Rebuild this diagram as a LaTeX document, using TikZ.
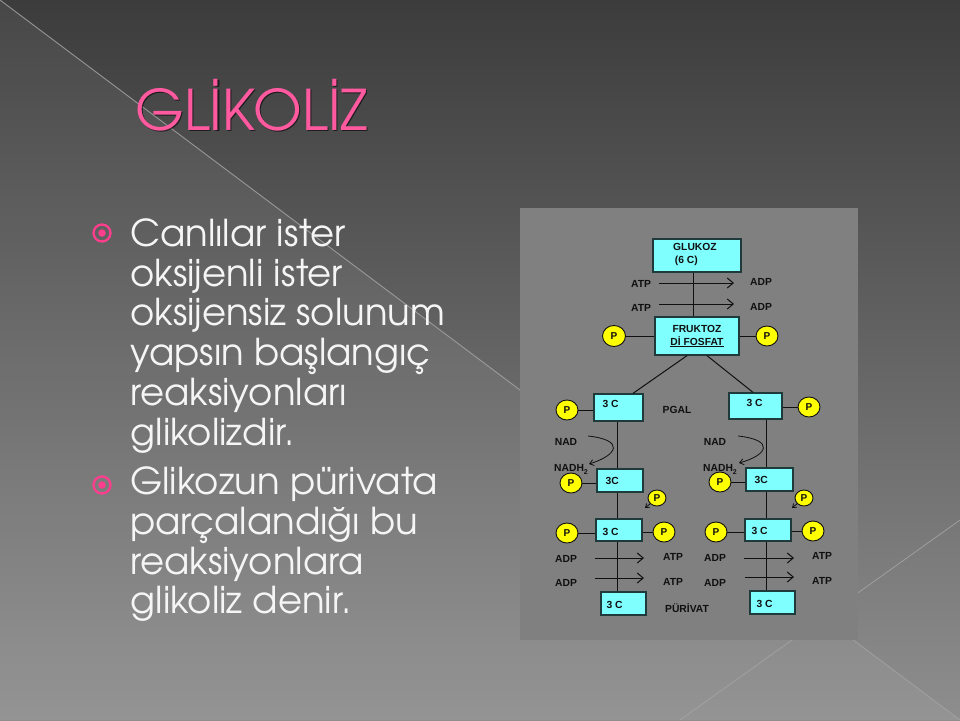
\documentclass[tikz,border=0pt]{standalone}
\usepackage{fontspec}
\setmainfont{Liberation Sans}
\newfontfamily\adv{TeX Gyre Adventor}
\newfontfamily\lib{Liberation Sans}
\usetikzlibrary{arrows.meta,shapes.geometric}
\definecolor{bgtop}{HTML}{3C3C3C}
\definecolor{bgbot}{HTML}{8E8E8E}
\definecolor{panel}{HTML}{808080}
\definecolor{boxfill}{HTML}{80FFFF}
\definecolor{boxline}{HTML}{1E3A3A}
\definecolor{pfill}{HTML}{FFFF00}
\definecolor{titlepink}{HTML}{FF5AA0}
\definecolor{bulletpink}{HTML}{FF3D8D}
\definecolor{ink}{HTML}{101010}
\definecolor{bgline}{HTML}{A4A4A4}
\begin{document}
\begin{tikzpicture}[x=1pt,y=-1pt,
  box/.style={draw=boxline,fill=boxfill,line width=1.3pt,inner sep=0pt},
  lbl/.style={inner sep=0pt,font=\lib\bfseries\fontsize{10.3}{13}\selectfont,text=ink},
  pc/.style={ellipse,draw=ink,fill=pfill,line width=0.9pt,minimum width=22pt,minimum height=20pt,inner sep=0pt,font=\lib\bfseries\fontsize{10}{10}\selectfont,text=ink},
  pcs/.style={pc,minimum width=18pt,minimum height=16pt},
  conn/.style={draw=ink,line width=1pt},
  arr/.style={conn,-{Straight Barb[length=6pt,width=10pt]}},
  arrs/.style={conn,line width=0.8pt,-{Straight Barb[length=3.5pt,width=5pt]}},
  body/.style={anchor=base west,inner sep=0pt,text=white!96!black,font=\adv\fontsize{37}{40}\selectfont},
  bul/.style={circle,draw=bulletpink,line width=2.3pt,minimum size=17pt,inner sep=0pt},
  buldot/.style={circle,fill=bulletpink,minimum size=7.5pt,inner sep=0pt},
  ttl/.style={anchor=base west,inner sep=0pt,font=\adv\fontsize{56}{60}\selectfont}
]
\useasboundingbox (0,0) rectangle (960,720);
% background
\shade[top color=bgtop,bottom color=bgbot] (0,0) rectangle (960,720);
\fill[white,opacity=0.06] (0,0) -- (960,720) -- (0,720) -- cycle;
\draw[bgline,line width=0.9pt,opacity=0.8] (0,0) -- (960,720);
\draw[bgline,line width=0.9pt,opacity=0.8] (680,720) -- (960,520);

% title
\node[ttl,text=black,opacity=0.6] (titlesh) at (136.3,131.3) {GLİKOLİZ};
\node[ttl,text=titlepink] (title) at (135,130) {GLİKOLİZ};

% bullets
\node[bul] (bul1) at (102,233) {};
\node[buldot] (bul1d) at (bul1) {};
\node[bul] (bul2) at (102,485) {};
\node[buldot] (bul2d) at (bul2) {};

\node[body] (t1) at (130,246) {Canlılar ister};
\node[body] (t2) at (130,286) {oksijenli ister};
\node[body] (t3) at (130,325) {oksijensiz solunum};
\node[body] (t4) at (130,365) {yapsın başlangıç};
\node[body] (t5) at (130,405) {reaksiyonları};
\node[body] (t6) at (130,445) {glikolizdir.};
\node[body] (t7) at (130,494) {Glikozun pürivata};
\node[body] (t8) at (130,534) {parçalandığı bu};
\node[body] (t9) at (130,574) {reaksiyonlara};
\node[body] (t10) at (130,613) {glikoliz denir.};

% panel
\fill[panel] (520,208) rectangle (858,640);

% boxes
\node[box,minimum width=88pt,minimum height=33pt] (G) at (697,255.5) {};
\node[lbl,anchor=west,align=left] (Gt) at (673,254) {GLUKOZ\\\,(6 C)};
\node[box,minimum width=84pt,minimum height=38pt] (F) at (697,336) {};
\node[lbl,align=center] (Ft) at (697,336) {FRUKTOZ\\\underline{Dİ FOSFAT}};

\node[box,minimum width=49pt,minimum height=27pt] (L1) at (618.5,407.5) {};
\node[box,minimum width=53pt,minimum height=26pt] (R1) at (755.5,406) {};
\node[box,minimum width=46pt,minimum height=23pt] (L2) at (620,480.5) {};
\node[box,minimum width=47pt,minimum height=23pt] (R2) at (769.5,479.5) {};
\node[box,minimum width=46pt,minimum height=22pt] (L3) at (619,530) {};
\node[box,minimum width=46pt,minimum height=22pt] (R3) at (768,530) {};
\node[box,minimum width=45pt,minimum height=23pt] (L4) at (623.5,603.5) {};
\node[box,minimum width=45pt,minimum height=23pt] (R4) at (772.5,602.5) {};

\path (L1.west) ++(9,-3.5) node[lbl,anchor=west] (L1t) {3 C};
\path (R1.west) ++(18,-3) node[lbl,anchor=west] (R1t) {3 C};
\path (L2.west) ++(9,0) node[lbl,anchor=west] (L2t) {3C};
\path (R2.west) ++(9,0.5) node[lbl,anchor=west] (R2t) {3C};
\path (L3.west) ++(7,2) node[lbl,anchor=west] (L3t) {3 C};
\path (R3.west) ++(7,0.5) node[lbl,anchor=west] (R3t) {3 C};
\path (L4.west) ++(6,1.5) node[lbl,anchor=west] (L4t) {3 C};
\path (R4.west) ++(7,1.5) node[lbl,anchor=west] (R4t) {3 C};

% vertical axes
\coordinate (xg) at (693,0);
\coordinate (xl) at (617.5,0);
\coordinate (xr) at (766.5,0);
\draw[conn] (G.south -| xg) -- (F.north -| xg);
\draw[conn] (L1.south -| xl) -- (L2.north -| xl);
\draw[conn] (L2.south -| xl) -- (L3.north -| xl);
\draw[conn] (L3.south -| xl) -- (L4.north -| xl);
\draw[conn] (R1.south -| xr) -- (R2.north -| xr);
\draw[conn] (R2.south -| xr) -- (R3.north -| xr);
\draw[conn] (R3.south -| xr) -- (R4.north -| xr);

% split
\draw[conn] ([xshift=-10pt]F.south) -- ([xshift=14.5pt]L1.north);
\draw[conn] ([xshift=10pt]F.south) -- ([xshift=-2.5pt]R1.north);

% phosphates
\node[pc,minimum width=23pt,minimum height=21pt] (PFL) at (614,336) {P};
\node[pc] (PFR) at (767,336) {P};
\node[pc] (P1L) at (567,410) {P};
\node[pc] (P1R) at (809,407) {P};
\node[pc] (P2L) at (571,483) {P};
\node[pc] (P2R) at (720,482) {P};
\node[pcs] (PiL) at (657,498) {P};
\node[pcs] (PiR) at (804,498) {P};
\node[pc] (P3La) at (567,533) {P};
\node[pc] (P3Lb) at (664,532) {P};
\node[pc] (P3Ra) at (716,532) {P};
\node[pc] (P3Rb) at (813,531) {P};

\draw[conn] (PFL.east) -- (PFL.east -| F.west);
\draw[conn] (F.east |- PFR.west) -- (PFR.west);
\draw[conn] (P1L.east) -- (P1L.east -| L1.west);
\draw[conn] (R1.east |- P1R.west) -- (P1R.west);
\draw[conn] (P2L.east) -- (P2L.east -| L2.west);
\draw[conn] (P2R.east) -- (P2R.east -| R2.west);
\draw[conn] (P3La.east) -- (P3La.east -| L3.west);
\draw[conn] (L3.east |- P3Lb.west) -- (P3Lb.west);
\draw[conn] (P3Ra.east) -- (P3Ra.east -| R3.west);
\draw[conn] (R3.east |- P3Rb.west) -- (P3Rb.west);

\coordinate (PiLt) at (645,508);
\coordinate (PiRt) at (792,508);
\draw[arrs] (PiL) -- (PiLt);
\draw[arrs] (PiR) -- (PiRt);

% ATP -> ADP (top)
\node[lbl] (atp1) at (641,284) {ATP};
\node[lbl] (atp2) at (641,308) {ATP};
\node[lbl] (adp1) at (761,282) {ADP};
\node[lbl] (adp2) at (761,307) {ADP};
\coordinate (a1s) at (659,283); \coordinate (a1e) at (734,283);
\coordinate (a2s) at (659,304); \coordinate (a2e) at (734,304);
\draw[arr] (a1s) -- (a1e);
\draw[arr] (a2s) -- (a2e);

% labels
\node[lbl] (pgal) at (677,410) {PGAL};
\node[lbl] (puri) at (687,608) {PÜRİVAT};
\node[lbl] (nadL) at (566,442) {NAD};
\node[lbl] (nadR) at (715,442) {NAD};
\node[lbl,anchor=west] (nadhL) at (554,469) {NADH\raisebox{-3pt}{\fontsize{7}{7}\selectfont 2}};
\node[lbl,anchor=west] (nadhR) at (703,469) {NADH\raisebox{-3pt}{\fontsize{7}{7}\selectfont 2}};

% NAD curved arrows
\coordinate (cLs) at (588,436); \coordinate (cLe) at (589,464);
\coordinate (cRs) at (738,436); \coordinate (cRe) at (739,463);
\draw[conn,line width=0.8pt,-{Straight Barb[length=4pt,width=6pt]}] (cLs) .. controls (625,440) and (618,455) .. (cLe);
\draw[conn,line width=0.8pt,-{Straight Barb[length=4pt,width=6pt]}] (cRs) .. controls (775,440) and (768,455) .. (cRe);

% ADP -> ATP (bottom left)
\node[lbl] (bLadp1) at (566,559) {ADP};
\node[lbl] (bLadp2) at (566,583) {ADP};
\node[lbl] (bLatp1) at (673,557) {ATP};
\node[lbl] (bLatp2) at (673,582) {ATP};
\coordinate (b1s) at (595,558); \coordinate (b1e) at (644,558);
\coordinate (b2s) at (595,578); \coordinate (b2e) at (644,578);
\draw[arr] (b1s) -- (b1e);
\draw[arr] (b2s) -- (b2e);

% ADP -> ATP (bottom right)
\node[lbl] (bRadp1) at (715,558) {ADP};
\node[lbl] (bRadp2) at (715,583) {ADP};
\node[lbl] (bRatp1) at (822,556) {ATP};
\node[lbl] (bRatp2) at (822,581) {ATP};
\coordinate (c1s) at (744,558); \coordinate (c1e) at (794,558);
\coordinate (c2s) at (745,577); \coordinate (c2e) at (794,577);
\draw[arr] (c1s) -- (c1e);
\draw[arr] (c2s) -- (c2e);
\end{tikzpicture}
\end{document}
